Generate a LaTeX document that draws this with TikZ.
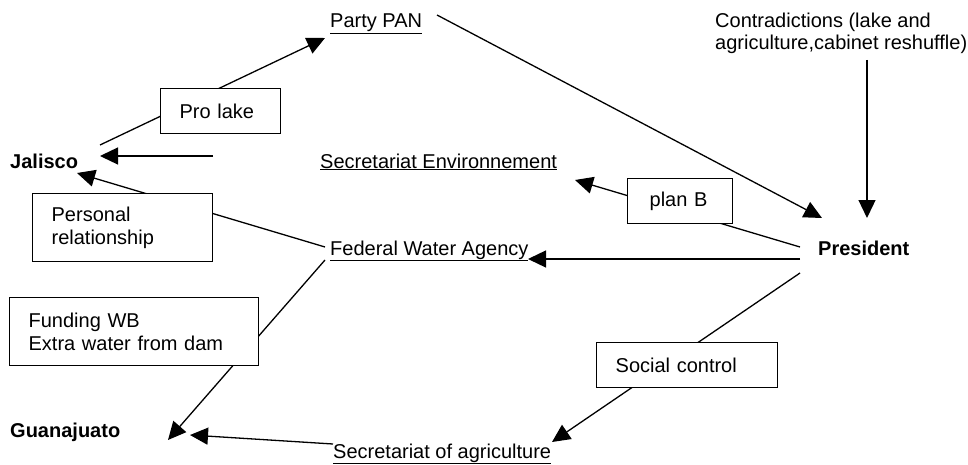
\documentclass[tikz,border=0pt]{standalone}
\usepackage{fontspec}
\setmainfont{Liberation Sans}
\usetikzlibrary{arrows.meta}
\begin{document}
\begin{tikzpicture}[x=1pt,y=-1pt,
  every node/.style={inner sep=0pt, font=\fontsize{20}{22.5}\selectfont},
  lbl/.style={anchor=base west},
  blbl/.style={anchor=base west, font=\fontsize{20}{22.5}\selectfont\bfseries},
  box/.style={draw, line width=1.3pt, fill=white, anchor=north west, align=left,
    inner xsep=19pt, inner ysep=0pt},
  conn/.style={line width=1.3pt},
  arr/.style={line width=1.3pt, -{Triangle[length=18pt,width=17pt]}},
]
\useasboundingbox (0,0) rectangle (968,465);

% text nodes
\node[lbl] (pan) at (330,28) {\underline{Party PAN}};
\node[anchor=north west, align=left] (contra) at (715,12.5) {Contradictions (lake and\\agriculture,cabinet reshuffle)};
\node[blbl] (jal) at (10,168) {Jalisco};
\node[lbl] (env) at (320,168) {\underline{Secretariat Environnement}};
\node[blbl] (pres) at (818,255) {President};
\node[lbl] (fwa) at (330,255) {\underline{Federal Water Agency}};
\node[blbl] (gua) at (10,437) {Guanajuato};
\node[lbl] (agri) at (333,458) {\underline{Secretariat of agriculture}};

% connector end points
\coordinate (pan-out) at (437,15);
\coordinate (pres-n1) at (822,218);
\coordinate (contra-out) at (867,60);
\coordinate (pres-n2) at (867,218);
\coordinate (pres-w1) at (800,247);
\coordinate (env-in) at (575,180);
\coordinate (pres-w2) at (800,259);
\coordinate (fwa-in) at (528,259);
\coordinate (pres-w3) at (800,273);
\coordinate (agri-in) at (552,442);
\coordinate (agri-out) at (333,444);
\coordinate (gua-in1) at (190,435);
\coordinate (fwa-out1) at (325,260);
\coordinate (gua-in2) at (168,440);
\coordinate (fwa-out2) at (325,247);
\coordinate (jal-in1) at (77,173);
\coordinate (free-tail) at (213,156);
\coordinate (jal-in2) at (100,156);
\coordinate (jal-out) at (100,145);
\coordinate (pan-in) at (325,38);

% connectors
\draw[arr] (pan-out) -- (pres-n1);
\draw[arr] (contra-out) -- (pres-n2);
\draw[arr] (pres-w1) -- (env-in);
\draw[arr] (pres-w2) -- (fwa-in);
\draw[arr] (pres-w3) -- (agri-in);
\draw[arr] (agri-out) -- (gua-in1);
\draw[arr] (fwa-out1) -- (gua-in2);
\draw[arr] (fwa-out2) -- (jal-in1);
\draw[arr] (free-tail) -- (jal-in2);
\draw[arr] (jal-out) -- (pan-in);

% boxes on connectors
\node[box, minimum height=45pt, text width=82pt] (prolake) at (160,88) {Pro lake};
\node[box, minimum height=45pt, inner xsep=22pt, text width=61pt] (planb) at (627,178) {plan B};
\node[box, minimum height=68pt, text width=142pt] (personal) at (32,193) {Personal\\relationship};
\node[box, minimum height=68pt, text width=211pt] (funding) at (9,297) {Funding WB\\Extra water from dam};
\node[box, minimum height=45pt, text width=143pt] (social) at (596,342) {Social control};
\end{tikzpicture}
\end{document}
